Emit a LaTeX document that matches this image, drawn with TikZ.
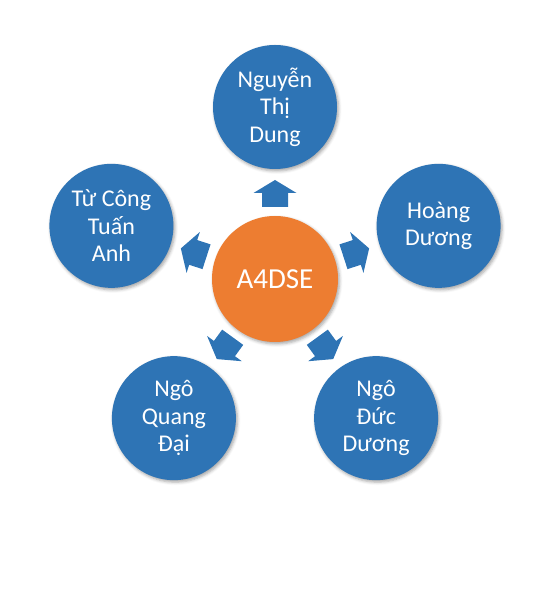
\documentclass[tikz,border=0pt]{standalone}
\usepackage{fontspec}
\setmainfont{Carlito}
\usetikzlibrary{calc,shadows.blur}
\definecolor{bluec}{HTML}{2E74B5}
\definecolor{orangec}{HTML}{ED7D31}

\begin{document}
\begin{tikzpicture}[
		x=1pt,y=1pt,
		hub/.style={circle,fill=orangec,minimum size=126pt,inner sep=0pt,text=white,
			font=\fontsize{29}{35}\selectfont,
			blur shadow={shadow xshift=1.5pt,shadow yshift=-2pt,shadow blur radius=3pt,shadow opacity=35}},
		member/.style={circle,fill=bluec,minimum size=124pt,inner sep=0pt,text=white,align=center,
			font=\fontsize{24}{27.5}\selectfont,
			blur shadow={shadow xshift=1.5pt,shadow yshift=-2pt,shadow blur radius=3pt,shadow opacity=35}},
		blockarr/.style={fill=bluec}
		]
		\useasboundingbox (0,0) rectangle (555,589);
		% ===== Parameters =====
		\def\D{172}     % hub to member distance
		\def\Ra{72}     % arrow base (from hub centre)
		\def\Rb{86}     % arrow head base
		\def\Rc{99}     % arrow tip
		% ===== Hub =====
		\node[hub] (hub) at (275,310) {A4DSE};
		% ===== Members =====
		\node[member] (dung)  at ($(hub)+(90:\D)$)   {Nguyễn\\Thị\\Dung};
		\node[member] (hoang) at ($(hub)+(18:\D)$)   {Hoàng\\Dương};
		\node[member] (duc)   at ($(hub)+(-54:\D)$)  {Ngô\\Đức\\Dương};
		\node[member] (dai)   at ($(hub)+(-126:\D)$) {Ngô\\Quang\\Đại};
		\node[member] (anh)   at ($(hub)+(162:\D)$)  {Từ Công\\Tuấn\\Anh};
		% ===== Block arrows =====
		\foreach \a in {90,18,-54,-126,162}{
			\begin{scope}[shift={(hub.center)},rotate=\a-90]
				\fill[blockarr] (-13,\Ra) -- (13,\Ra) -- (13,\Rb) -- (21.5,\Rb)
				-- (0,\Rc) -- (-21.5,\Rb) -- (-13,\Rb) -- cycle;
			\end{scope}
		}
	\end{tikzpicture}
\end{document}
